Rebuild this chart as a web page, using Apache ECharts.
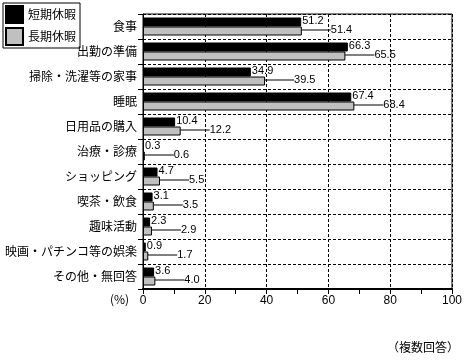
<!DOCTYPE html>
<html><head><meta charset="utf-8">
<script src="https://cdn.jsdelivr.net/npm/echarts@6/dist/echarts.min.js"></script>
<style>html,body{margin:0;padding:0;background:#fff}#c{width:465px;height:360px}</style>
</head><body><div id="c"></div>
<script>
const categories = ['食事','出勤の準備','掃除・洗濯等の家事','睡眠','日用品の購入','治療・診療','ショッピング','喫茶・飲食','趣味活動','映画・パチンコ等の娯楽','その他・無回答'];
const shortLeave = [51.2, 66.3, 34.9, 67.4, 10.4, 0.3, 4.7, 3.1, 2.3, 0.9, 3.6];
const longLeave = [51.4, 65.5, 39.5, 68.4, 12.2, 0.6, 5.5, 3.5, 2.9, 1.7, 4.0];
const seriesNames = ['短期休暇', '長期休暇'];
const xTicks = [0, 20, 40, 60, 80, 100];

const cjk = '"Noto Sans CJK JP", sans-serif';
const num = '"Liberation Sans", Arial, sans-serif';
const chart = echarts.init(document.getElementById('c'), null, {renderer: 'canvas'});
chart.setOption({
  animation: false,
  legend: {
    orient: 'vertical', left: 3, top: 3, icon: 'rect',
    borderColor: '#000', borderWidth: 1, padding: [2, 4, 2, 2],
    itemWidth: 17, itemHeight: 17, itemGap: 3,
    textStyle: {fontFamily: cjk, fontSize: 12, color: '#000'},
    data: seriesNames
  },
  grid: {left: 143, right: 12, top: 14, bottom: 71, show: true, borderColor: '#000', borderWidth: 1},
  xAxis: {
    type: 'value', min: xTicks[0], max: xTicks[xTicks.length - 1], interval: 20,
    axisLine: {show: true, lineStyle: {color: '#000', width: 2}},
    axisTick: {show: true, length: 5, lineStyle: {color: '#000'}},
    minorTick: {show: true, splitNumber: 2, length: 5, lineStyle: {color: '#000'}},
    axisLabel: {color: '#000', fontFamily: num, fontSize: 12, margin: 6},
    splitLine: {show: true, lineStyle: {color: '#000', type: [3, 2], width: 1}}
  },
  yAxis: {
    type: 'category', data: categories, inverse: true,
    axisLine: {show: true, lineStyle: {color: '#000', width: 1}},
    axisTick: {show: true, length: 5, lineStyle: {color: '#000'}},
    axisLabel: {color: '#000', fontFamily: cjk, fontSize: 12, margin: 6},
    splitLine: {show: true, lineStyle: {color: '#000', type: [3, 2], width: 1}}
  },
  series: [
    {
      name: seriesNames[0], type: 'bar', data: shortLeave, barWidth: 9, barGap: '0%',
      itemStyle: {color: '#000', borderColor: '#000', borderWidth: 1},
      label: {show: true, position: 'right', distance: 1, color: '#000', fontFamily: num, fontSize: 11,
        formatter: p => p.value.toFixed(1)},
      labelLayout: {dy: -1}
    },
    {
      name: seriesNames[1], type: 'bar', data: longLeave, barWidth: 9,
      itemStyle: {color: '#c0c0c0', borderColor: '#000', borderWidth: 1},
      label: {show: true, position: 'right', distance: 1, color: '#000', fontFamily: num, fontSize: 11,
        formatter: p => p.value.toFixed(1)},
      labelLayout: {dx: 28, dy: -1},
      labelLine: {show: true, lineStyle: {color: '#000', width: 1}}
    }
  ],
  graphic: [
    {type: 'text', left: 110, top: 293, style: {text: '(%)', fontFamily: cjk, fontSize: 12, fill: '#000'}},
    {type: 'text', right: 6, top: 341, style: {text: '（複数回答）', fontFamily: cjk, fontSize: 12, fill: '#000'}}
  ]
});
</script></body></html>
